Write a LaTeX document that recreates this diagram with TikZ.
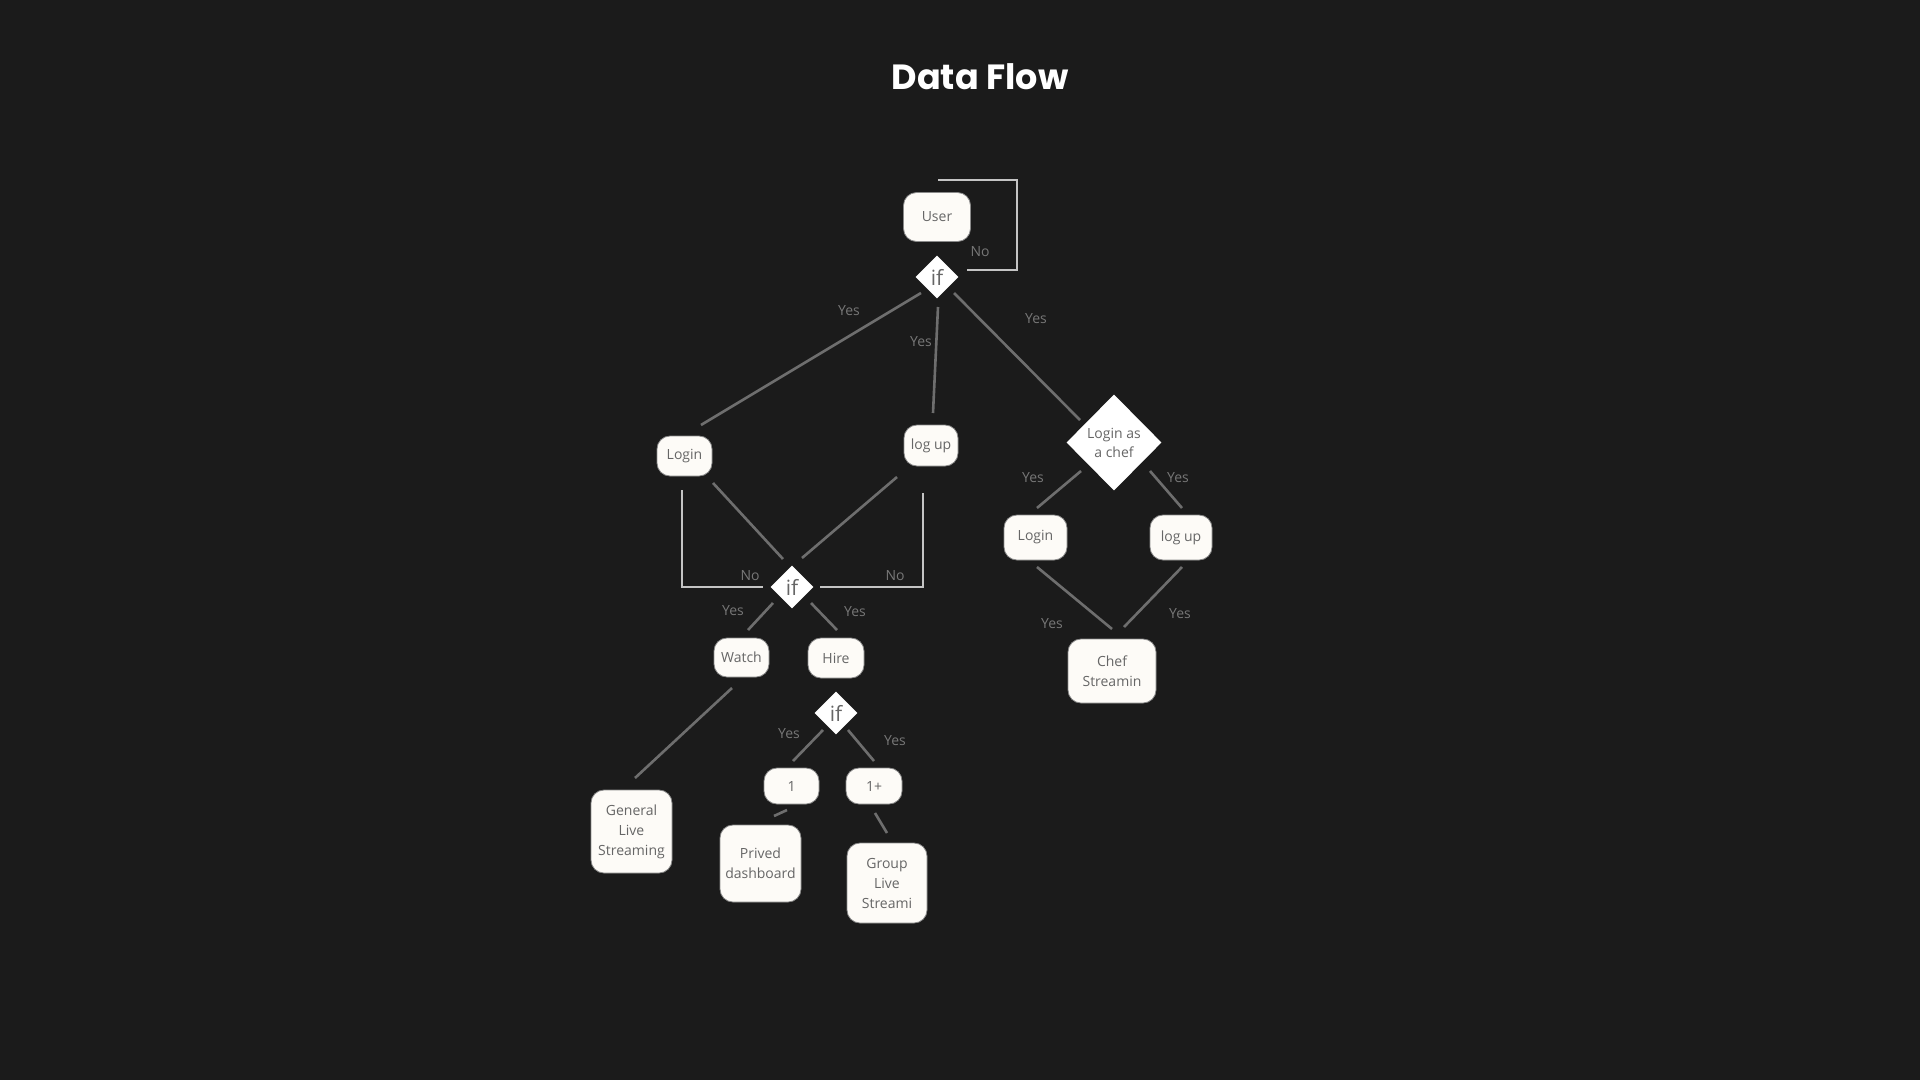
\documentclass[tikz,border=0pt]{standalone}
\usepackage{fontspec}
\setmainfont{Open Sans}
\newfontfamily\titlefont{Poppins}
\usetikzlibrary{shapes.geometric,calc}
\definecolor{bg}{HTML}{1B1B1B}
\definecolor{nodefill}{HTML}{FDFBF7}
\definecolor{nodeedge}{HTML}{8A8A8A}
\definecolor{nodetext}{HTML}{666666}
\definecolor{linkc}{HTML}{6E6E6E}
\definecolor{loopc}{HTML}{C4C4C4}
\definecolor{lblc}{HTML}{777777}
\tikzset{
  box/.style={rectangle, rounded corners=13pt, fill=nodefill, draw=nodeedge, line width=0.8pt,
    inner sep=0pt, align=center, text=nodetext, font=\fontsize{14}{20}\selectfont},
  ifdia/.style={diamond, aspect=1, fill=white, inner sep=0pt, minimum width=43pt, minimum height=43pt,
    text=nodetext, font=\fontsize{21}{24}\selectfont},
  bigdia/.style={diamond, aspect=1, fill=white, inner sep=0pt, minimum width=95pt, minimum height=96pt,
    align=center, text=nodetext, font=\fontsize{14}{19}\selectfont},
  link/.style={draw=linkc, line width=2.6pt},
  loopline/.style={draw=loopc, line width=2.6pt},
  lbl/.style={text=lblc, font=\fontsize{14}{16}\selectfont, inner sep=0pt}
}
\begin{document}
\begin{tikzpicture}[x=1pt,y=-1pt]
\fill[bg] (0,0) rectangle (1920,1080);
\useasboundingbox (0,0) rectangle (1920,1080);

\node[text=white, font=\titlefont\fontsize{35}{40}\selectfont\bfseries] (title) at (980,77) {Data Flow};

% nodes
\node[box, minimum width=67pt, minimum height=49pt] (user) at (937,217) {User};
\node[ifdia] (if1) at (937,277) {if};
\node[box, minimum width=55pt, minimum height=40pt] (login1) at (684.5,456) {Login};
\node[box, minimum width=54pt, minimum height=41pt] (logup1) at (931,445.5) {log up};
\node[bigdia] (chef) at (1114,442.5) {Login as\\a chef};
\node[ifdia] (if2) at (792,587) {if};
\node[box, minimum width=55pt, minimum height=39pt] (watch) at (741.5,657.5) {Watch};
\node[box, minimum width=56pt, minimum height=40pt] (hire) at (836,658) {Hire};
\node[ifdia] (if3) at (836,713) {if};
\node[box, minimum width=55pt, minimum height=36pt] (one) at (791.5,786) {1};
\node[box, minimum width=56pt, minimum height=36pt] (oneplus) at (874,786) {1+};
\node[box, minimum width=81pt, minimum height=83pt] (general) at (631.5,831.5) {General\\Live\\Streaming};
\node[box, minimum width=81pt, minimum height=77pt] (prived) at (760.5,863.5) {Prived\\dashboard};
\node[box, minimum width=80pt, minimum height=80pt] (group) at (887,883) {Group\\Live\\Streami};
\node[box, minimum width=63pt, minimum height=45pt] (login2) at (1035.5,537.5) {Login};
\node[box, minimum width=62pt, minimum height=45pt] (logup2) at (1181,537.5) {log up};
\node[box, minimum width=88pt, minimum height=64pt] (chefstream) at (1112,671) {Chef\\Streamin};

% loop from if1 back to user
\coordinate (loopc) at ($(user)+(80,-37)$);
\draw[loopline] ($(if1)+(30,-7)$) -| (loopc) -- ($(user)+(1,-37)$);
\node[lbl] (no1) at (980,252) {No};

% links from if1
\draw[link] ($(if1)+(-16,16)$) -- ($(login1)+(16.5,-31)$);
\draw[link] ($(if1)+(1,30)$) -- ($(logup1)+(2,-32.5)$);
\draw[link] ($(if1)+(17,16)$) -- ($(chef)+(-34,-22.5)$);
\node[lbl] (y1) at (849,311) {Yes};
\node[lbl] (y2) at (921,342) {Yes};
\node[lbl] (y3) at (1036,319) {Yes};

% to if2
\draw[link] ($(login1)+(28.5,27)$) -- ($(if2)+(-9,-28)$);
\draw[link] ($(logup1)+(-34,31.5)$) -- ($(if2)+(10,-29)$);
\draw[loopline] ($(login1)+(-2.5,34)$) |- ($(if2)+(-29,0)$);
\draw[loopline] ($(logup1)+(-8,47.5)$) |- ($(if2)+(28,0)$);
\node[lbl] (no2) at (750,576) {No};
\node[lbl] (no3) at (895,576) {No};

% from if2
\draw[link] ($(if2)+(-19,16)$) -- ($(watch)+(6.5,-27.5)$);
\draw[link] ($(if2)+(19,16)$) -- ($(hire)+(1,-28)$);
\node[lbl] (y4) at (733,611) {Yes};
\node[lbl] (y5) at (855,612) {Yes};

\draw[link] ($(watch)+(-9.5,30.5)$) -- ($(general)+(3.5,-53.5)$);

% from if3
\draw[link] ($(if3)+(-13,17)$) -- ($(one)+(1.5,-25)$);
\draw[link] ($(if3)+(12,17)$) -- ($(oneplus)+(0,-25)$);
\node[lbl] (y6) at (789,734) {Yes};
\node[lbl] (y7) at (895,741) {Yes};
\draw[link] ($(one)+(-4.5,24)$) -- ($(prived)+(13.5,-47.5)$);
\draw[link] ($(oneplus)+(1,27)$) -- ($(group)+(0,-50)$);

% chef branch
\draw[link] ($(chef)+(-33,28.5)$) -- ($(login2)+(1.5,-29.5)$);
\draw[link] ($(chef)+(36,28.5)$) -- ($(logup2)+(1,-29.5)$);
\node[lbl] (y8) at (1033,478) {Yes};
\node[lbl] (y9) at (1178,478) {Yes};
\draw[link] ($(login2)+(1.5,29.5)$) -- ($(chefstream)+(0,-42)$);
\draw[link] ($(logup2)+(1,29.5)$) -- ($(chefstream)+(12,-44)$);
\node[lbl] (y10) at (1052,624) {Yes};
\node[lbl] (y11) at (1180,614) {Yes};
\end{tikzpicture}
\end{document}
